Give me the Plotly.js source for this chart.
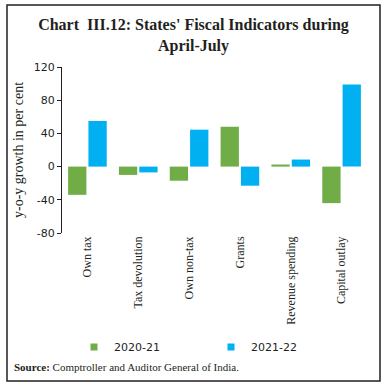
<!DOCTYPE html>
<html>
<head>
<meta charset="utf-8">
<script src="https://cdn.plot.ly/plotly-3.0.1.min.js"></script>
<style>
html,body{margin:0;padding:0;background:#fff;}
#chart{width:387px;height:386px;}
</style>
</head>
<body>
<div id="chart"></div>
<script>
const categories = ["Own tax", "Tax devolution", "Own non-tax", "Grants", "Revenue spending", "Capital outlay"];
const series2020 = [-34, -10, -17, 48, 2.5, -44];
const series2021 = [55, -7, 44.5, -23, 8.5, 99];
const seriesNames = ["2020-21", "2021-22"];
const seriesColors = ["#70AD47", "#00B0F0"];
const yTicks = [120, 80, 40, 0, -40, -80];
const yTickText = ["120", "80", "40", "0", "-40", "-80"];
const titleText = "Chart  III.12: States' Fiscal Indicators during<br>April-July";
const yTitle = "y-o-y growth in per cent";
const sourceText = "<b>Source:</b> Comptroller and Auditor General of India.";

const W = 387, H = 386;
const L = 62, R = 20, T = 67, B = 153;
const pw = W - L - R, ph = H - T - B;
const px = v => (v - L) / pw;
const py = v => (H - B - v) / ph;

const idx = categories.map((c, i) => i);

const traces = [
  {type: "bar", name: seriesNames[0], x: idx, y: series2020, marker: {color: seriesColors[0]}, showlegend: false},
  {type: "bar", name: seriesNames[1], x: idx, y: series2021, marker: {color: seriesColors[1]}, showlegend: false},
  {type: "scatter", mode: "markers", name: seriesNames[0], x: [null], y: [null],
   marker: {symbol: "square", size: 7, color: seriesColors[0]}, showlegend: true},
  {type: "scatter", mode: "markers", name: seriesNames[1], x: [null], y: [null],
   marker: {symbol: "square", size: 7, color: seriesColors[1]}, showlegend: true}
];

const serif = "Liberation Serif, DejaVu Serif, serif";
const sans = "DejaVu Sans, Liberation Sans, sans-serif";

const layout = {
  width: W, height: H,
  margin: {l: L, r: R, t: T, b: B},
  paper_bgcolor: "#fff", plot_bgcolor: "#fff",
  barmode: "group", bargap: 0.2, bargroupgap: 0.1,
  showlegend: true,
  title: {text: titleText, font: {family: serif, size: 16, color: "#231f20", weight: "bold"},
          x: 0.5, xref: "container", xanchor: "center", y: 1 - 30/H, yref: "container", yanchor: "middle"},
  xaxis: {
    type: "linear", range: [-0.5, 5.5],
    tickmode: "array", tickvals: idx, ticktext: categories,
    tickangle: -90, ticks: "", showline: false, showgrid: false, zeroline: false,
    tickfont: {family: serif, size: 12, color: "#231f20"}, fixedrange: true
  },
  xaxis2: {
    overlaying: "x", anchor: "free", position: 120/200,
    type: "linear", range: [-0.5, 5.5],
    tickmode: "array", tickvals: [0.5, 1.5, 2.5, 3.5, 4.5, 5.5],
    ticks: "outside", ticklen: 3, tickcolor: "#231f20", tickwidth: 1,
    showticklabels: false, showline: true, linecolor: "#231f20", linewidth: 1,
    showgrid: false, zeroline: false, side: "bottom"
  },
  yaxis: {
    range: [-80, 120], tickmode: "array", tickvals: yTicks, ticktext: yTickText,
    ticks: "outside", ticklen: 4, tickcolor: "#231f20",
    showline: true, linecolor: "#231f20", linewidth: 1,
    showgrid: false, zeroline: false,
    tickfont: {family: sans, size: 11, color: "#231f20"},
    title: {text: yTitle, font: {family: serif, size: 14, color: "#231f20"}, standoff: 6}
  },
  legend: {
    orientation: "h", x: px(74), xanchor: "left", y: py(347), yanchor: "middle",
    font: {family: sans, size: 11, color: "#231f20"},
    entrywidth: 92, entrywidthmode: "pixels", itemwidth: 30, bgcolor: "rgba(0,0,0,0)"
  },
  annotations: [
    {text: sourceText, xref: "paper", yref: "paper", x: px(12), y: py(367), xanchor: "left", yanchor: "middle",
     showarrow: false, font: {family: serif, size: 11, color: "#231f20"}}
  ],
  shapes: [
    {type: "rect", xref: "paper", yref: "paper", x0: px(7), x1: px(380), y0: py(381), y1: py(5),
     line: {color: "#231f20", width: 1.5}, fillcolor: "rgba(0,0,0,0)", layer: "below"}
  ]
};

Plotly.newPlot("chart", traces, layout, {staticPlot: true, displayModeBar: false});
</script>
</body>
</html>
